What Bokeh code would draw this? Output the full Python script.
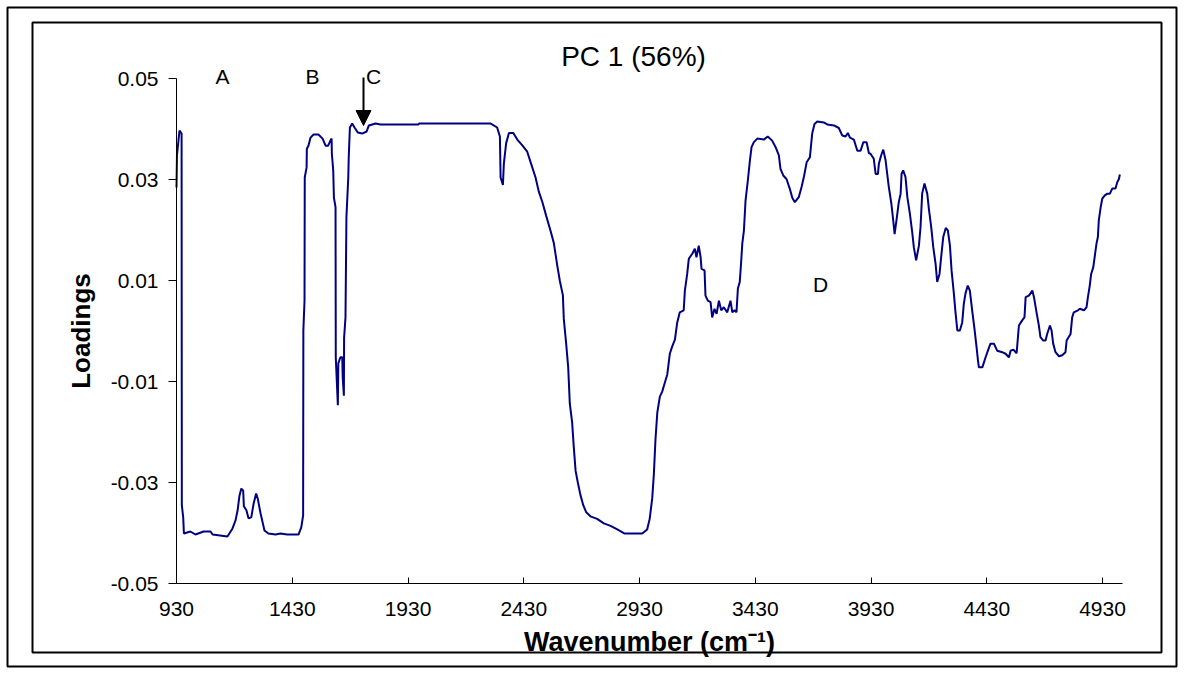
from bokeh.plotting import figure
from bokeh.models import (FixedTicker, NumeralTickFormatter, Label, Arrow, NormalHead,
                          BoxAnnotation, Range1d, LinearAxis)
from bokeh.embed import file_html
from bokeh.resources import INLINE

wavenumber = [930, 932, 943, 952, 953, 959, 962, 990, 1012, 1047, 1077, 1086, 1150, 1172, 1185,
              1194, 1202, 1210, 1218, 1221, 1232, 1241, 1253, 1263, 1274, 1281, 1293, 1302, 1310,
              1327, 1358, 1379, 1408, 1457, 1469, 1477, 1478, 1483, 1484, 1492, 1493, 1500, 1509,
              1522, 1543, 1561, 1574, 1585, 1595, 1600, 1601, 1607, 1610, 1617, 1618, 1627, 1629,
              1638, 1646, 1648, 1653, 1654, 1660, 1664, 1672, 1674, 1679, 1689, 1699, 1713, 1732,
              1751, 1761, 1790, 1811, 1975, 1978,
              2286, 2315, 2327, 2330, 2340, 2344, 2354, 2366, 2385, 2402, 2423, 2445, 2462, 2481,
              2495, 2510, 2527, 2546, 2560, 2575, 2586, 2599, 2603, 2613, 2622, 2629, 2639, 2646,
              2654, 2664, 2675, 2687, 2700, 2718, 2747, 2776, 2805, 2834, 2866, 2942, 2963, 2974,
              2985, 2992, 2999, 3007, 3018, 3028, 3039, 3050, 3061, 3071, 3083, 3093, 3104, 3121,
              3126, 3136, 3143, 3158, 3169, 3176, 3186, 3194, 3198, 3211, 3215, 3225, 3237, 3244,
              3254, 3263, 3273, 3283, 3294, 3309, 3323, 3331, 3341, 3349, 3355, 3363, 3369, 3374,
              3381, 3388, 3398, 3407, 3414, 3424, 3439, 3467, 3484, 3503, 3518, 3532, 3539, 3551,
              3565, 3579, 3590, 3601, 3618, 3630, 3640, 3652, 3666, 3676, 3686, 3698, 3726, 3741,
              3770, 3791, 3806, 3820, 3830, 3839, 3856, 3871, 3885, 3897, 3911, 3921,
              3928, 3942, 3950, 3960, 3964, 3974, 3983, 3993, 4000, 4007, 4018, 4026, 4032, 4040,
              4050, 4058, 4062, 4069, 4079, 4087, 4098, 4108, 4115, 4125, 4137, 4144, 4151, 4161,
              4173, 4180, 4190, 4199, 4209, 4216, 4226, 4233, 4242, 4253, 4262, 4271, 4278, 4288,
              4295, 4303, 4314, 4324, 4331, 4338, 4348, 4357, 4367, 4377, 4386, 4392, 4396, 4411,
              4425, 4435, 4446,
              4461, 4475, 4497, 4511, 4526, 4533, 4545, 4559, 4569, 4583, 4593, 4598, 4612, 4627,
              4634, 4645, 4655, 4662, 4674, 4684, 4691, 4703, 4710, 4717, 4727, 4742, 4756, 4770,
              4775, 4792, 4799, 4806, 4824, 4832, 4850, 4861, 4867, 4875, 4881, 4890, 4896, 4904,
              4910, 4914, 4922, 4929, 4939, 4951, 4962, 4972, 4986, 4994, 5001, 5005]

loadings = [0.0284, 0.0348, 0.0397, 0.0391, -0.0345, -0.0369, -0.0401, -0.0397, -0.0403, -0.0397,
            -0.0397, -0.0403, -0.0407, -0.0391, -0.0375, -0.0355, -0.0326, -0.0312, -0.0316,
            -0.0347, -0.0355, -0.0371, -0.0369, -0.0342, -0.0322, -0.0332, -0.0361, -0.0379,
            -0.0395, -0.0401, -0.0403, -0.0401, -0.0403, -0.0403, -0.0389, -0.0365, 0.0001,
            0.0060, 0.0304, 0.0324, 0.0361, 0.0367, 0.0383, 0.0389, 0.0389, 0.0381, 0.0367,
            0.0367, 0.0377, 0.0381, 0.0352, 0.0318, 0.0264, 0.0245, -0.0052, -0.0147, -0.0064,
            -0.0052, -0.0052, -0.0092, -0.0128, -0.0013, 0.0027, 0.0225, 0.0304, 0.0344, 0.0403,
            0.0411, 0.0403, 0.0393, 0.0391, 0.0395, 0.0407, 0.0411, 0.0409, 0.0409, 0.0411,
            0.0411, 0.0403, 0.0385, 0.0304, 0.0289, 0.0331, 0.0372, 0.0392, 0.0392, 0.0379,
            0.0368, 0.0355, 0.0331, 0.0304, 0.0276, 0.0256, 0.0228, 0.0198, 0.0174, 0.0129,
            0.0099, 0.0071, 0.0024, -0.0024, -0.0072, -0.0144, -0.0181, -0.0229, -0.0277,
            -0.0301, -0.0325, -0.0345, -0.0359, -0.0367, -0.0372, -0.0381, -0.0386, -0.0393,
            -0.0401, -0.0401, -0.0393, -0.0372, -0.0331, -0.0284, -0.0215, -0.0161, -0.0130,
            -0.0120, -0.0103, -0.0086, -0.0045, -0.0031, -0.0017, 0.0017, 0.0037, 0.0041,
            0.0080, 0.0113, 0.0143, 0.0153, 0.0163, 0.0146, 0.0169, 0.0146, 0.0123, 0.0120,
            0.0070, 0.0060, 0.0057, 0.0027, 0.0044, 0.0034, 0.0060, 0.0041, 0.0047, 0.0037,
            0.0060, 0.0037, 0.0041, 0.0037, 0.0084, 0.0097, 0.0136, 0.0173, 0.0199, 0.0258,
            0.0298, 0.0338, 0.0364, 0.0374, 0.0381, 0.0379, 0.0385, 0.0377, 0.0364, 0.0348,
            0.0321, 0.0308, 0.0301, 0.0282, 0.0264, 0.0255, 0.0265, 0.0285, 0.0305, 0.0334,
            0.0344, 0.0391, 0.0410, 0.0415, 0.0413, 0.0409, 0.0407, 0.0402, 0.0387, 0.0385,
            0.0392, 0.0383, 0.0379, 0.0357, 0.0357, 0.0374, 0.0374, 0.0352,
            0.0351, 0.0341, 0.0311, 0.0311, 0.0331, 0.0348, 0.0359, 0.0338, 0.0311, 0.0285,
            0.0252, 0.0219, 0.0192, 0.0219, 0.0255, 0.0272, 0.0311, 0.0318, 0.0305, 0.0265,
            0.0232, 0.0196, 0.0166, 0.0140, 0.0169, 0.0206, 0.0272, 0.0292, 0.0272, 0.0242,
            0.0206, 0.0166, 0.0133, 0.0097, 0.0113, 0.0146, 0.0186, 0.0204, 0.0199, 0.0169,
            0.0120, 0.0074, 0.0037, 0.0001, 0.0001, 0.0017, 0.0054, 0.0074, 0.0090, 0.0080,
            0.0041, 0.0004, -0.0032, -0.0058, -0.0072, -0.0072, -0.0052, -0.0039, -0.0025,
            -0.0025, -0.0039, -0.0042, -0.0045, -0.0052, -0.0039, -0.0037, -0.0044, 0.0011,
            0.0021, 0.0027, 0.0067, 0.0070, 0.0080, 0.0067, 0.0037, 0.0011, -0.0012, -0.0019,
            -0.0019, -0.0006, 0.0011, 0.0001, -0.0025, -0.0042, -0.0050, -0.0048, -0.0042,
            -0.0019, -0.0006, 0.0027, 0.0037, 0.0041, 0.0044, 0.0041, 0.0047, 0.0067, 0.0090,
            0.0113, 0.0126, 0.0146, 0.0173, 0.0186, 0.0219, 0.0245, 0.0262, 0.0268, 0.0272,
            0.0272, 0.0282, 0.0282, 0.0295, 0.0301, 0.0310]

x_ticks = [930, 1430, 1930, 2430, 2930, 3430, 3930, 4430, 4930]
y_ticks = [0.05, 0.03, 0.01, -0.01, -0.03, -0.05]
x_axis_bounds = (930, 5016)
y_axis_bounds = (-0.05, 0.05)

title_text = "PC 1 (56%)"
letter_labels = ["A", "B", "C", "D"]

FONT = "Liberation Sans"
W, H = 1191, 679

# canvas-pixel -> data helpers (used only to place decorations / the frame extent)
XS = 500 / 115.75
YS = 0.1 / 505
def cx(px):
    return 930 + (px - 176) * XS
def cy(py):
    return 0.05 - (py - 78) * YS

p = figure(width=W, height=H, output_backend="svg", toolbar_location=None,
           x_range=Range1d(cx(0), cx(W)), y_range=Range1d(cy(H), cy(0)),
           x_axis_location=None, y_axis_location=None,
           min_border=0, min_border_left=0, min_border_right=0,
           min_border_top=0, min_border_bottom=0)
p.title.visible = False
p.outline_line_color = None
p.xgrid.visible = False
p.ygrid.visible = False
p.background_fill_color = "white"
p.border_fill_color = "white"

p.line(wavenumber, loadings, line_color="#000080", line_width=2)

xa = LinearAxis(fixed_location=y_axis_bounds[0], bounds=x_axis_bounds)
xa.ticker = FixedTicker(ticks=x_ticks)
xa.major_tick_in = 6
xa.major_tick_out = 0
xa.minor_tick_line_color = None
xa.axis_line_color = "black"
xa.major_tick_line_color = "black"
xa.major_label_text_font = FONT
xa.major_label_text_font_size = "21px"
xa.major_label_text_color = "black"
xa.major_label_standoff = 18
xa.axis_label = "Wavenumber (cm\u207b\u00b9)"
xa.axis_label_text_font = FONT
xa.axis_label_text_font_style = "bold"
xa.axis_label_text_font_size = "27px"
xa.axis_label_text_color = "black"
xa.axis_label_standoff = 8
p.add_layout(xa, "below")

ya = LinearAxis(fixed_location=x_ticks[0], bounds=y_axis_bounds)
ya.ticker = FixedTicker(ticks=y_ticks)
ya.formatter = NumeralTickFormatter(format="0.00")
ya.major_tick_in = 0
ya.major_tick_out = 8
ya.minor_tick_line_color = None
ya.axis_line_color = "black"
ya.major_tick_line_color = "black"
ya.major_label_text_font = FONT
ya.major_label_text_font_size = "21px"
ya.major_label_text_color = "black"
ya.major_label_standoff = 10
ya.axis_label = "Loadings"
ya.axis_label_text_font = FONT
ya.axis_label_text_font_style = "bold"
ya.axis_label_text_font_size = "26px"
ya.axis_label_text_color = "black"
ya.axis_label_standoff = 12
p.add_layout(ya, "left")

p.add_layout(Label(x=cx(633), y=cy(56), text=title_text, text_font=FONT,
                   text_font_size="28px", text_align="center", text_baseline="middle",
                   text_color="black"))
for t, (px, py) in zip(letter_labels, [(222, 76), (312, 76), (373, 76), (820, 284)]):
    p.add_layout(Label(x=cx(px), y=cy(py), text=t, text_font=FONT, text_font_size="21px",
                       text_align="center", text_baseline="middle", text_color="black"))

p.add_layout(Arrow(end=NormalHead(size=15, fill_color="black", line_color="black"),
                   x_start=cx(363), y_start=cy(77), x_end=cx(363), y_end=cy(125),
                   line_color="black", line_width=2))

p.add_layout(BoxAnnotation(left=cx(7), right=cx(1176), top=cy(7), bottom=cy(666),
                           fill_alpha=0, line_color="black", line_alpha=1.0, line_width=2))
p.add_layout(BoxAnnotation(left=cx(32), right=cx(1161), top=cy(22), bottom=cy(652),
                           fill_alpha=0, line_color="black", line_alpha=1.0, line_width=2))

open("out.html", "w").write(file_html(p, INLINE))
